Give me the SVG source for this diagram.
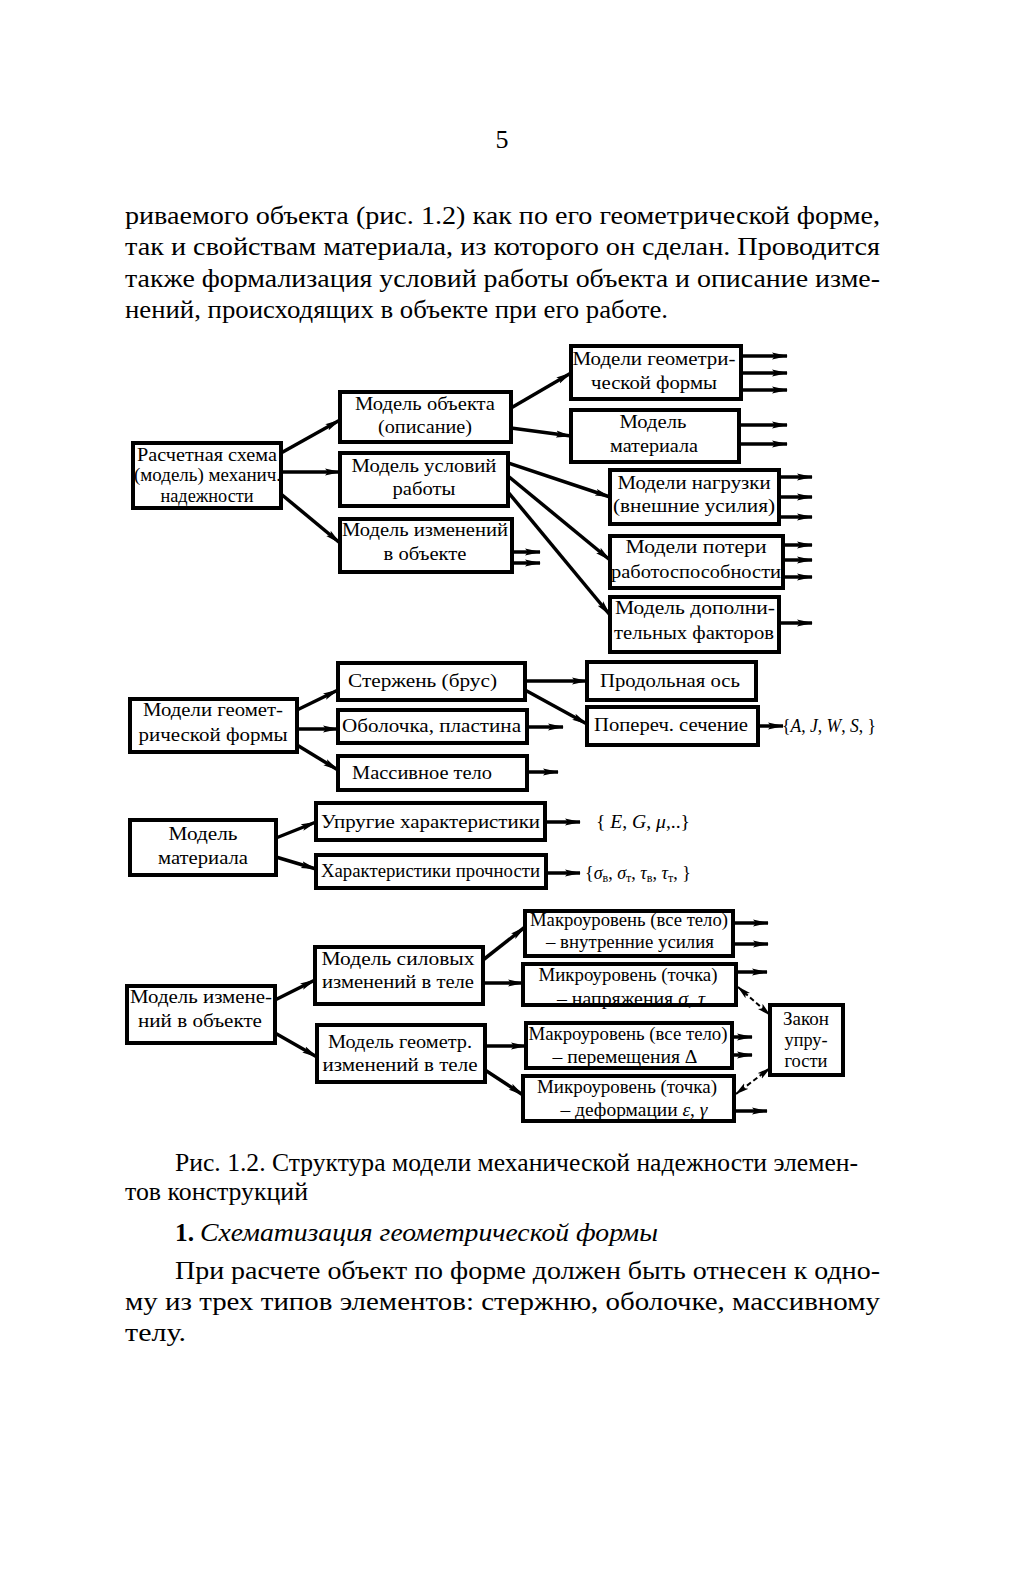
<svg xmlns="http://www.w3.org/2000/svg" width="1009" height="1575" viewBox="0 0 1009 1575">
<style>
.bg{fill:#fff}
.box{fill:#fff;stroke:#000;stroke-width:4}
.t{font-family:"Liberation Serif","Times New Roman",serif;font-size:18px;fill:#000}
.m{text-anchor:middle}
.body{font-family:"Liberation Serif","Times New Roman",serif;font-size:26px;fill:#000}
.c{stroke:#000;stroke-width:3.5;fill:none;marker-end:url(#ah)}
.d{stroke:#000;stroke-width:2;fill:none;stroke-dasharray:5 3;marker-start:url(#ahd);marker-end:url(#ahd)}
.i{font-style:italic}
</style>
<defs>
<marker id="ah" viewBox="0 0 16 8" refX="15" refY="4" markerWidth="16" markerHeight="8" markerUnits="userSpaceOnUse" orient="auto">
<path d="M0,0.5 L16,4 L0,7.5 L3,4 Z" fill="#000"/>
</marker>
<marker id="ahd" viewBox="0 0 14 8" refX="13" refY="4" markerWidth="14" markerHeight="8" markerUnits="userSpaceOnUse" orient="auto-start-reverse">
<path d="M0,0.5 L14,4 L0,7.5 L3,4 Z" fill="#000"/>
</marker>
</defs>
<rect class="bg" x="0" y="0" width="1009" height="1575"/>

<g id="page-text">
<text class="body" x="502" y="148" font-size="19" text-anchor="middle">5</text>
<text class="body" x="125" y="224" textLength="755" lengthAdjust="spacingAndGlyphs">риваемого объекта (рис. 1.2) как по его геометрической форме,</text>
<text class="body" x="125" y="255" textLength="755" lengthAdjust="spacingAndGlyphs">так и свойствам материала, из которого он сделан. Проводится</text>
<text class="body" x="125" y="287" textLength="755" lengthAdjust="spacingAndGlyphs">также формализация условий работы объекта и описание изме-</text>
<text class="body" x="125" y="318" textLength="543" lengthAdjust="spacingAndGlyphs">нений, происходящих в объекте при его работе.</text>
<text class="body" x="175" y="1171" textLength="683" lengthAdjust="spacingAndGlyphs">Рис. 1.2. Структура модели механической надежности элемен-</text>
<text class="body" x="125" y="1200" textLength="183" lengthAdjust="spacingAndGlyphs">тов конструкций</text>
<text class="body" x="175" y="1241" font-weight="bold" textLength="19" lengthAdjust="spacingAndGlyphs">1.</text>
<text class="body i" x="200" y="1241" textLength="458" lengthAdjust="spacingAndGlyphs">Схематизация геометрической формы</text>
<text class="body" x="175" y="1279" textLength="705" lengthAdjust="spacingAndGlyphs">При расчете объект по форме должен быть отнесен к одно-</text>
<text class="body" x="125" y="1310" textLength="755" lengthAdjust="spacingAndGlyphs">му из трех типов элементов: стержню, оболочке, массивному</text>
<text class="body" x="125" y="1341" textLength="61" lengthAdjust="spacingAndGlyphs">телу.</text>
</g>

<g id="connectors">
<line class="c" x1="281" y1="453" x2="340" y2="420"/>
<line class="c" x1="281" y1="472" x2="340" y2="472"/>
<line class="c" x1="281" y1="494" x2="340" y2="543"/>
<line class="c" x1="511" y1="408" x2="571" y2="373"/>
<line class="c" x1="511" y1="428" x2="571" y2="436"/>
<line class="c" x1="508" y1="463" x2="610" y2="497"/>
<line class="c" x1="508" y1="476" x2="610" y2="560"/>
<line class="c" x1="508" y1="492" x2="610" y2="615"/>
<line class="c" x1="512" y1="552" x2="540" y2="552"/>
<line class="c" x1="512" y1="563" x2="540" y2="563"/>
<line class="c" x1="741" y1="356" x2="787" y2="356"/>
<line class="c" x1="741" y1="373" x2="787" y2="373"/>
<line class="c" x1="741" y1="390" x2="787" y2="390"/>
<line class="c" x1="739" y1="425" x2="787" y2="425"/>
<line class="c" x1="739" y1="444" x2="787" y2="444"/>
<line class="c" x1="779" y1="477" x2="812" y2="477"/>
<line class="c" x1="779" y1="497" x2="812" y2="497"/>
<line class="c" x1="779" y1="517" x2="812" y2="517"/>
<line class="c" x1="783" y1="545" x2="812" y2="545"/>
<line class="c" x1="783" y1="560" x2="812" y2="560"/>
<line class="c" x1="783" y1="577" x2="812" y2="577"/>
<line class="c" x1="779" y1="623" x2="812" y2="623"/>

<line class="c" x1="297" y1="710" x2="338" y2="690"/>
<line class="c" x1="297" y1="729" x2="338" y2="729"/>
<line class="c" x1="297" y1="745" x2="338" y2="770"/>
<line class="c" x1="525" y1="681" x2="587" y2="681"/>
<line class="c" x1="525" y1="690" x2="587" y2="724"/>
<line class="c" x1="527" y1="727" x2="563" y2="727"/>
<line class="c" x1="527" y1="772" x2="558" y2="772"/>
<line class="c" x1="758" y1="726" x2="783" y2="726"/>

<line class="c" x1="276" y1="838" x2="316" y2="822"/>
<line class="c" x1="276" y1="857" x2="316" y2="869"/>
<line class="c" x1="545" y1="822" x2="580" y2="822"/>
<line class="c" x1="546" y1="873" x2="580" y2="873"/>

<line class="c" x1="275" y1="1000" x2="315" y2="980"/>
<line class="c" x1="275" y1="1033" x2="317" y2="1057"/>
<line class="c" x1="483" y1="960" x2="525" y2="927"/>
<line class="c" x1="483" y1="983" x2="523" y2="983"/>
<line class="c" x1="485" y1="1046" x2="526" y2="1046"/>
<line class="c" x1="485" y1="1070" x2="523" y2="1095"/>
<line class="c" x1="733" y1="923" x2="768" y2="923"/>
<line class="c" x1="733" y1="944" x2="768" y2="944"/>
<line class="c" x1="736" y1="972" x2="767" y2="972"/>
<line class="c" x1="732" y1="1037" x2="752" y2="1037"/>
<line class="c" x1="732" y1="1055" x2="752" y2="1055"/>
<line class="c" x1="734" y1="1111" x2="767" y2="1111"/>
<line class="d" x1="738" y1="987" x2="770" y2="1015"/>
<line class="d" x1="770" y1="1068" x2="736" y2="1094"/>
</g>

<g id="n-raschet"><rect class="box" x="133" y="443" width="148" height="65"/>
<text class="t" x="137" y="461" textLength="140" lengthAdjust="spacingAndGlyphs">Расчетная  схема</text>
<text class="t" x="134" y="481" textLength="147" lengthAdjust="spacingAndGlyphs">(модель) механич.</text>
<text class="t m" x="207" y="502" textLength="93" lengthAdjust="spacingAndGlyphs">надежности</text></g>

<g id="n-obj"><rect class="box" x="340" y="392" width="171" height="50"/>
<text class="t m" x="425" y="410" textLength="140" lengthAdjust="spacingAndGlyphs">Модель объекта</text>
<text class="t m" x="425" y="433" textLength="94" lengthAdjust="spacingAndGlyphs">(описание)</text></g>

<g id="n-usl"><rect class="box" x="340" y="453" width="168" height="53"/>
<text class="t m" x="424" y="472" textLength="145" lengthAdjust="spacingAndGlyphs">Модель условий</text>
<text class="t m" x="424" y="495" textLength="63" lengthAdjust="spacingAndGlyphs">работы</text></g>

<g id="n-izm"><rect class="box" x="340" y="519" width="172" height="53"/>
<text class="t m" x="425" y="536" textLength="166" lengthAdjust="spacingAndGlyphs">Модель изменений</text>
<text class="t m" x="425" y="560" textLength="83" lengthAdjust="spacingAndGlyphs">в объекте</text></g>

<g id="n-geom1"><rect class="box" x="571" y="346" width="170" height="53"/>
<text class="t m" x="654" y="365" textLength="163" lengthAdjust="spacingAndGlyphs">Модели геометри-</text>
<text class="t m" x="654" y="389" textLength="126" lengthAdjust="spacingAndGlyphs">ческой формы</text></g>

<g id="n-mat1"><rect class="box" x="571" y="410" width="168" height="52"/>
<text class="t m" x="653" y="428" textLength="67" lengthAdjust="spacingAndGlyphs">Модель</text>
<text class="t m" x="654" y="452" textLength="88" lengthAdjust="spacingAndGlyphs">материала</text></g>

<g id="n-nagr"><rect class="box" x="610" y="470" width="169" height="54"/>
<text class="t m" x="694" y="489" textLength="153" lengthAdjust="spacingAndGlyphs">Модели нагрузки</text>
<text class="t m" x="694" y="512" textLength="162" lengthAdjust="spacingAndGlyphs">(внешние усилия)</text></g>

<g id="n-poter"><rect class="box" x="610" y="536" width="173" height="52"/>
<text class="t m" x="696" y="553" textLength="141" lengthAdjust="spacingAndGlyphs">Модели  потери</text>
<text class="t m" x="696" y="578" textLength="170" lengthAdjust="spacingAndGlyphs">работоспособности</text></g>

<g id="n-dop"><rect class="box" x="610" y="597" width="169" height="55"/>
<text class="t m" x="695" y="614" textLength="160" lengthAdjust="spacingAndGlyphs">Модель  дополни-</text>
<text class="t m" x="694" y="639" textLength="160" lengthAdjust="spacingAndGlyphs">тельных факторов</text></g>

<g id="n-geom2"><rect class="box" x="130" y="699" width="167" height="53"/>
<text class="t m" x="213" y="716" textLength="140" lengthAdjust="spacingAndGlyphs">Модели геомет-</text>
<text class="t m" x="213" y="741" textLength="149" lengthAdjust="spacingAndGlyphs">рической формы</text></g>

<g id="n-sterzh"><rect class="box" x="338" y="663" width="187" height="37"/>
<text class="t" x="348" y="687" textLength="149" lengthAdjust="spacingAndGlyphs">Стержень  (брус)</text></g>

<g id="n-obol"><rect class="box" x="338" y="710" width="189" height="33"/>
<text class="t" x="342" y="732" textLength="179" lengthAdjust="spacingAndGlyphs">Оболочка, пластина</text></g>

<g id="n-mass"><rect class="box" x="338" y="756" width="189" height="34"/>
<text class="t" x="352" y="779" textLength="140" lengthAdjust="spacingAndGlyphs">Массивное тело</text></g>

<g id="n-os"><rect class="box" x="587" y="662" width="169" height="38"/>
<text class="t m" x="670" y="687" textLength="140" lengthAdjust="spacingAndGlyphs">Продольная ось</text></g>

<g id="n-sech"><rect class="box" x="587" y="707" width="171" height="38"/>
<text class="t m" x="671" y="731" textLength="154" lengthAdjust="spacingAndGlyphs">Попереч. сечение</text></g>

<text class="t" x="782" y="732" font-size="17" textLength="94" lengthAdjust="spacingAndGlyphs">{<tspan class="i">A</tspan>, <tspan class="i">J</tspan>, <tspan class="i">W</tspan>, <tspan class="i">S</tspan>, }</text>

<g id="n-mat2"><rect class="box" x="130" y="820" width="146" height="55"/>
<text class="t m" x="203" y="840" textLength="69" lengthAdjust="spacingAndGlyphs">Модель</text>
<text class="t m" x="203" y="864" textLength="90" lengthAdjust="spacingAndGlyphs">материала</text></g>

<g id="n-upr"><rect class="box" x="316" y="803" width="229" height="37"/>
<text class="t" x="321" y="828" textLength="219" lengthAdjust="spacingAndGlyphs">Упругие характеристики</text></g>

<g id="n-proch"><rect class="box" x="316" y="855" width="230" height="33"/>
<text class="t" x="321" y="877" textLength="219" lengthAdjust="spacingAndGlyphs">Характеристики прочности</text></g>

<text class="t" x="596" y="828" font-size="17" textLength="94" lengthAdjust="spacingAndGlyphs">{ <tspan class="i">E</tspan>, <tspan class="i">G</tspan>, <tspan class="i">μ</tspan>,..}</text>
<text class="t" x="585" y="879" font-size="17">{<tspan class="i">σ</tspan><tspan font-size="12" dy="3">в</tspan><tspan dy="-3">, </tspan><tspan class="i">σ</tspan><tspan font-size="12" dy="3">т</tspan><tspan dy="-3">, </tspan><tspan class="i">τ</tspan><tspan font-size="12" dy="3">в</tspan><tspan dy="-3">, </tspan><tspan class="i">τ</tspan><tspan font-size="12" dy="3">т</tspan><tspan dy="-3">,  }</tspan></text>

<g id="n-izm2"><rect class="box" x="127" y="986" width="148" height="57"/>
<text class="t m" x="201" y="1003" textLength="142" lengthAdjust="spacingAndGlyphs">Модель измене-</text>
<text class="t m" x="200" y="1027" textLength="124" lengthAdjust="spacingAndGlyphs">ний в объекте</text></g>

<g id="n-sil"><rect class="box" x="315" y="947" width="168" height="57"/>
<text class="t m" x="398" y="965" textLength="153" lengthAdjust="spacingAndGlyphs">Модель  силовых</text>
<text class="t m" x="398" y="988" textLength="152" lengthAdjust="spacingAndGlyphs">изменений в теле</text></g>

<g id="n-geomizm"><rect class="box" x="317" y="1025" width="168" height="57"/>
<text class="t m" x="400" y="1048" textLength="144" lengthAdjust="spacingAndGlyphs">Модель геометр.</text>
<text class="t m" x="400" y="1071" textLength="155" lengthAdjust="spacingAndGlyphs">изменений в теле</text></g>

<g id="n-makro1"><rect class="box" x="525" y="911" width="208" height="45"/>
<text class="t m" x="629" y="926" textLength="198" lengthAdjust="spacingAndGlyphs">Макроуровень (все тело)</text>
<text class="t m" x="630" y="948" textLength="168" lengthAdjust="spacingAndGlyphs">– внутренние усилия</text></g>

<g id="n-mikro1"><rect class="box" x="523" y="964" width="213" height="41"/>
<text class="t m" x="628" y="981" textLength="179" lengthAdjust="spacingAndGlyphs">Микроуровень (точка)</text>
<text class="t m" x="631" y="1005" textLength="148" lengthAdjust="spacingAndGlyphs">– напряжения <tspan class="i">σ</tspan>,  <tspan class="i">τ</tspan></text></g>

<g id="n-makro2"><rect class="box" x="526" y="1023" width="206" height="45"/>
<text class="t m" x="628" y="1040" textLength="199" lengthAdjust="spacingAndGlyphs">Макроуровень (все тело)</text>
<text class="t m" x="625" y="1063" textLength="145" lengthAdjust="spacingAndGlyphs">– перемещения Δ</text></g>

<g id="n-mikro2"><rect class="box" x="523" y="1076" width="211" height="45"/>
<text class="t m" x="627" y="1093" textLength="180" lengthAdjust="spacingAndGlyphs">Микроуровень (точка)</text>
<text class="t m" x="634" y="1116" textLength="147" lengthAdjust="spacingAndGlyphs">– деформации  <tspan class="i">ε</tspan>,  <tspan class="i">γ</tspan></text></g>

<g id="n-zakon"><rect class="box" x="770" y="1005" width="73" height="70"/>
<text class="t m" x="806" y="1025" textLength="46" lengthAdjust="spacingAndGlyphs">Закон</text>
<text class="t m" x="806" y="1046" textLength="43" lengthAdjust="spacingAndGlyphs">упру-</text>
<text class="t m" x="806" y="1067" textLength="43" lengthAdjust="spacingAndGlyphs">гости</text></g>
</svg>
